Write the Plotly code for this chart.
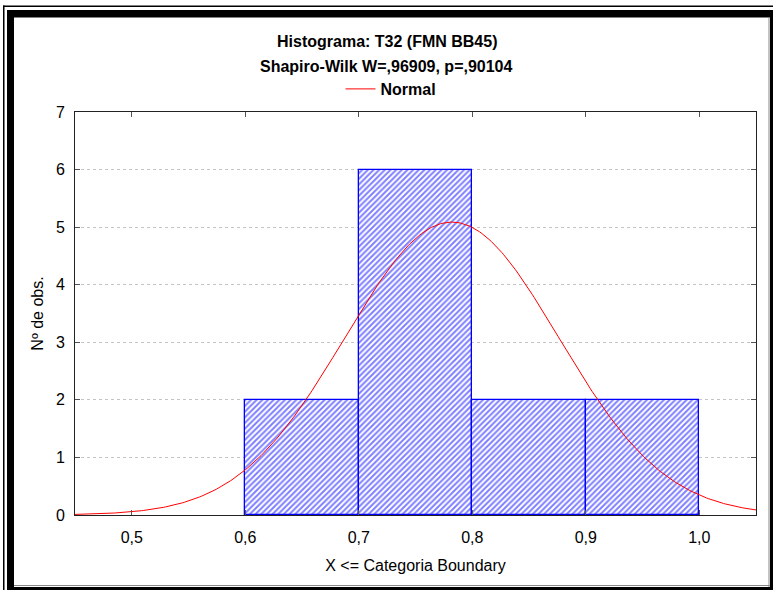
import numpy as np
import plotly.graph_objects as go

# ---- data ----
bin_left = [0.6, 0.7, 0.8, 0.9]
bin_right = [0.7, 0.8, 0.9, 1.0]
counts = [2, 6, 2, 2]
fit_mean = 0.782
fit_sd = 0.0941
x_ticks = [0.5, 0.6, 0.7, 0.8, 0.9, 1.0]
y_ticks = [0, 1, 2, 3, 4, 5, 6, 7]

W, H = 773, 590
L, R, T, B = 75, 17, 112, 75
PW, PH = W - L - R, H - T - B

def px(x):
    return (x - L) / PW

def py(y):
    return (H - B - y) / PH

centers = [(a + b) / 2 for a, b in zip(bin_left, bin_right)]
widths = [b - a for a, b in zip(bin_left, bin_right)]
n = sum(counts)
bw = widths[0]
xs = np.linspace(0.45, 1.05, 400)
ys = n * bw * np.exp(-0.5 * ((xs - fit_mean) / fit_sd) ** 2) / (fit_sd * np.sqrt(2 * np.pi))

fig = go.Figure()
fig.add_trace(go.Bar(
    x=centers, y=counts, width=widths, showlegend=False,
    marker=dict(color="white", line=dict(color="#0000ff", width=1.3),
                pattern=dict(shape="/", fgcolor="#0000ff", bgcolor="white",
                             size=4, solidity=0.5, fillmode="overlay")),
))
fig.add_trace(go.Scatter(x=xs, y=ys, mode="lines", name="Normal",
                         line=dict(color="#ff0000", width=1)))

font = "Liberation Sans, Arial, sans-serif"
fig.update_layout(
    width=W, height=H, margin=dict(l=L, r=R, t=T, b=B, autoexpand=False),
    paper_bgcolor="white", plot_bgcolor="white",
    separators=",.",
    font=dict(family=font, size=15, color="black"),
    showlegend=True,
    legend=dict(orientation="h", x=(391 / W), xanchor="center", xref="container",
                y=(H - 89) / H, yanchor="middle", yref="container",
                font=dict(size=16, family=font, weight="bold"),
                bgcolor="rgba(0,0,0,0)", itemwidth=30),
    bargap=0,
    xaxis=dict(range=[0.45, 1.05], tickvals=x_ticks, tickformat=".1f",
               showgrid=False, zeroline=False, showline=True, linecolor="#222",
               linewidth=1, mirror="allticks", ticks="inside", ticklen=5,
               tickcolor="#555", tickfont=dict(size=16), ticklabelstandoff=8,
               title=dict(text="X <= Categoria Boundary", font=dict(size=16), standoff=14)),
    yaxis=dict(range=[0, 7], tickvals=y_ticks, showgrid=True,
               gridcolor="#c4c4c4", griddash="dot", gridwidth=1,
               zeroline=False, showline=True, linecolor="#222", linewidth=1,
               mirror="allticks", ticks="inside", ticklen=5, tickcolor="#555",
               tickfont=dict(size=16), ticklabelstandoff=6,
               title=dict(text="Nº de obs.", font=dict(size=16), standoff=8)),
    annotations=[
        dict(text="<b>Histograma: T32 (FMN BB45)</b>", xref="paper", yref="paper",
             x=px(386.5), y=py(42), xanchor="center", yanchor="middle",
             showarrow=False, font=dict(size=16)),
        dict(text="<b>Shapiro-Wilk W=,96909, p=,90104</b>", xref="paper", yref="paper",
             x=px(386.5), y=py(66), xanchor="center", yanchor="middle",
             showarrow=False, font=dict(size=16)),
    ],
)

# frame bands (pixel rectangles)
def band(x0, y0, x1, y1, color):
    fig.add_shape(type="rect", xref="paper", yref="paper",
                  x0=px(x0), x1=px(x1), y0=py(y0), y1=py(y1),
                  fillcolor=color, line=dict(width=0), layer="above")

band(3, 5.5, 4.5, 600, "black")
band(3, 5.5, 800, 7, "black")
band(7, 10, 14, 600, "black")
band(7, 10, 800, 17.5, "black")
band(770, 10, 800, 600, "black")
band(7, 587, 800, 600, "black")
band(768.5, 17.5, 769.5, 587, "#888")
band(14, 585, 770, 586, "#888")

fig.write_html("out.html")
